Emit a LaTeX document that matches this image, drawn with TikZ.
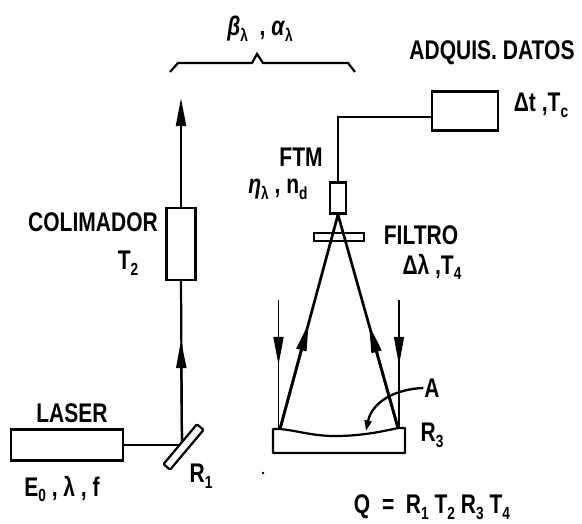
\documentclass[tikz,border=0pt]{standalone}
\usepackage{fontspec}
\setmainfont[FakeStretch=0.78]{Liberation Sans}
\usepackage{tikz}
\usetikzlibrary{arrows.meta}
\newcommand{\sbi}[1]{\raisebox{-0.4ex}{\fontsize{15}{15}\selectfont #1}}

\begin{document}
\begin{tikzpicture}[x=0.03cm, y=-0.03cm, line width=1.9pt, >={Triangle[length=24pt, width=8.5pt]},
    caja/.style={draw, fill=white, inner sep=0pt},
    etiqueta/.style={inner sep=0pt, font=\fontsize{23}{26}\selectfont\bfseries}]
    \useasboundingbox (0,0) rectangle (582,523);

    % elementos
    \node (laser) [caja, minimum width=3.36cm, minimum height=0.93cm] at (67,445) {};
    \node (colimador) [caja, minimum width=0.87cm, minimum height=2.16cm] at (181,244) {};
    \node (adquis) [caja, minimum width=1.98cm, minimum height=1.17cm] at (465,111) {};
    \node (ftm) [caja, minimum width=0.48cm, minimum height=0.93cm] at (338,198) {};
    \node (filtro) [draw, inner sep=0pt, minimum width=1.5cm, minimum height=0.24cm] at (339,237) {};

    \coordinate (topeA) at (181,98);
    \coordinate (flechaA) at (181,340);
    \coordinate (codo) at (338,117);
    \coordinate (rayoI) at (280,429);
    \coordinate (rayoD) at (398,428);
    \coordinate (inicioI) at (278.5,300);
    \coordinate (inicioD) at (399,300);
    \coordinate (flechaI) at (278.5,365);
    \coordinate (flechaD) at (399,365);
    \coordinate (baseI) at (278.5,429);
    \coordinate (baseD) at (399,428);

    % haz del laser
    \draw (laser.east) -- (182,445);
    \draw (182,445) -- (colimador.south);
    \draw [->] (182,445) -- (flechaA);
    \draw [->] (colimador.north) -- (topeA);
    \node (espejo) [caja, rotate=50, rounded corners=1pt, minimum width=1.56cm, minimum height=0.26cm] at (183.5,447) {};

    % fibra
    \draw (adquis.west |- codo) -- (codo) -- (ftm.north);

    % rayos
    \path (rayoI) -- coordinate[pos=0.495] (puntaI) (ftm.south);
    \path (rayoD) -- coordinate[pos=0.484] (puntaD) (ftm.south);
    \draw [line width=2.3pt] (rayoI) -- (ftm.south);
    \draw [line width=2.3pt] (rayoD) -- (ftm.south);
    \draw [->, line width=2.3pt] (rayoI) -- (puntaI);
    \draw [->, line width=2.3pt] (rayoD) -- (puntaD);
    \draw [line width=1.5pt] (inicioI) -- (baseI);
    \draw [line width=1.5pt] (inicioD) -- (baseD);
    \draw [->, line width=1.5pt] (inicioI) -- (flechaI);
    \draw [->, line width=1.5pt] (inicioD) -- (flechaD);

    % reflector
    \draw [line join=round] (273,429) -- (273,453) -- (405,453) -- (405,428) -- (398,428)
        .. controls (380,432) and (360,436) .. (335,436)
        .. controls (312,436) and (300,431) .. (280,429) -- cycle;

    % llave
    \draw (170,72) -- (178,63) -- (252,63) -- (257,54) -- (263,63) -- (348,63) -- (355,72);
    \fill (263,473) circle (1.3);

    % textos
    \node (bl) [etiqueta] at (260,29) {\textit{β}\sbi{λ} ~, \textit{α}\sbi{λ}};
    \node (ad) [etiqueta] at (492,53) {ADQUIS. DATOS};
    \node (dt) [etiqueta] at (541,105) {Δt ,T\sbi{c}};
    \node (tf) [etiqueta] at (301,157) {FTM};
    \node (et) [etiqueta] at (278,189) {\textit{η}\sbi{λ} , n\sbi{d}};
    \node (fi) [etiqueta] at (421,235) {FILTRO};
    \node (dl) [etiqueta] at (432,267) {Δλ ,T\sbi{4}};
    \node (co) [etiqueta] at (93,222) {COLIMADOR};
    \node (t2) [etiqueta] at (128,263) {T\sbi{2}};
    \node (la) [etiqueta] at (72,413) {LASER};
    \node (ef) [etiqueta] at (62,489) {E\sbi{0} , λ , f};
    \node (r1) [etiqueta] at (201,476) {R\sbi{1}};
    \node (a) [etiqueta] at (432,388) {A};
    \node (r3) [etiqueta] at (432,435) {R\sbi{3}};
    \node (q) [etiqueta] at (432,507) {Q ~= ~R\sbi{1} T\sbi{2} R\sbi{3} T\sbi{4}};

    \draw [->, >={Triangle[length=9pt, width=6pt]}, line width=2pt] (a.west) .. controls (395,389) and (372,402) .. (366,431);
\end{tikzpicture}
\end{document}
